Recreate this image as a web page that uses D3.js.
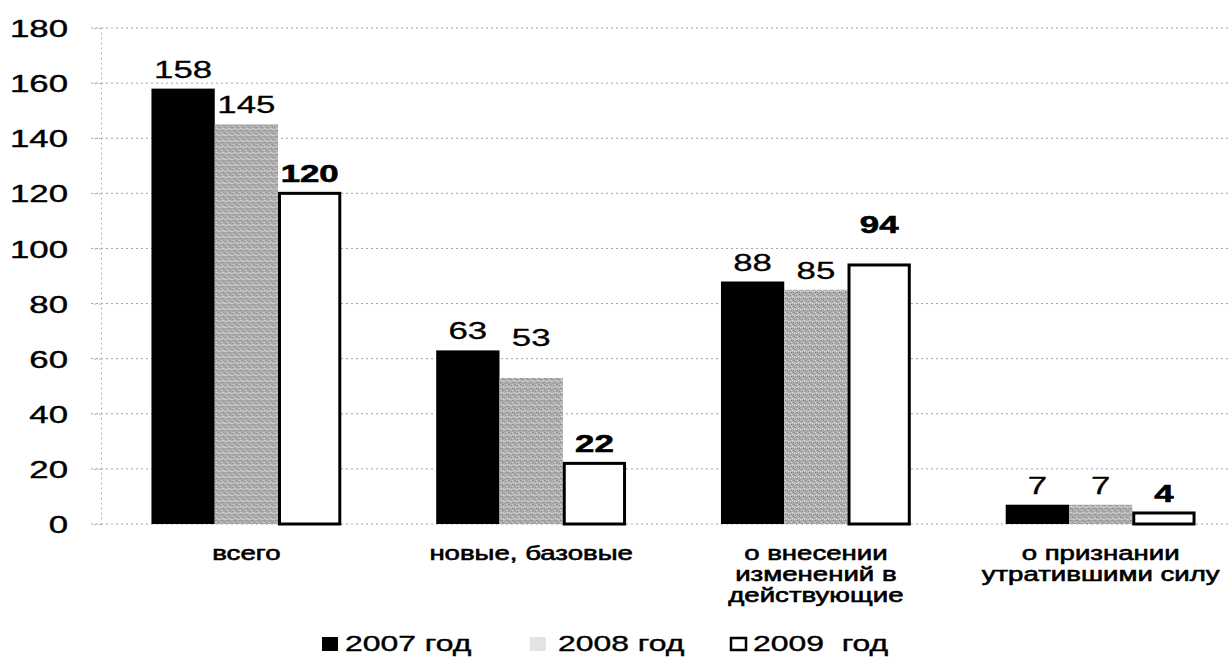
<!DOCTYPE html>
<html lang="ru">
<head>
<meta charset="UTF-8">
<title>Законы по годам</title>
<script src="https://cdn.jsdelivr.net/npm/d3@7/dist/d3.min.js"></script>
<style>
  body { margin: 0; background: #fff; }
  svg text { font-family: "Liberation Sans", Arial, sans-serif; fill: #000; }
  .grid line { stroke: #a0a0a0; stroke-width: 1; stroke-dasharray: 2,3; }
  .axis path, .axis line { stroke: #b0b0b0; stroke-dasharray: 2,3; }
</style>
</head>
<body>
<div id="chart"></div>
<script>
// данные
var categories = ["всего", "новые, базовые", "о внесении\nизменений в\nдействующие", "о признании\nутратившими силу"];
var seriesNames = ["2007 год", "2008 год", "2009\u00a0\u00a0год"];
var v2007 = [158, 63, 88, 7];
var v2008 = [145, 53, 85, 7];
var v2009 = [120, 22, 94, 4];
var yTicks = [0, 20, 40, 60, 80, 100, 120, 140, 160, 180];

var series = [v2007, v2008, v2009];
// extra lift of some value labels (as in the original)
var labelLift = [[0, 0, 0, 0], [0, 21, 0, 0], [0, 0, 21, 0]];

var W = 1229, H = 657;
var sx = 1.45; // the scan is stretched horizontally

var svg = d3.select("#chart").append("svg")
    .attr("width", W).attr("height", H);

var defs = svg.append("defs");
var pat = defs.append("pattern")
    .attr("id", "stipple")
    .attr("patternUnits", "userSpaceOnUse")
    .attr("width", 6).attr("height", 6);
pat.append("rect").attr("width", 6).attr("height", 6).attr("fill", "#b2b2b2");
var dots = [[0,0,"#7c7c7c"],[3,1,"#888"],[1,3,"#e2e2e2"],[4,4,"#7c7c7c"],[2,5,"#959595"],[5,2,"#e8e8e8"],[0,4,"#8e8e8e"],[3,3,"#d0d0d0"],[1,1,"#9a9a9a"],[4,0,"#dcdcdc"],[5,5,"#a0a0a0"]];
dots.forEach(function (d) {
    pat.append("rect").attr("x", d[0]).attr("y", d[1]).attr("width", 1).attr("height", 1).attr("fill", d[2]);
});

var axisX = 101;
var x0 = d3.scaleBand()
    .domain(categories)
    .range([104, 1243])
    .paddingInner(1 / 3)
    .paddingOuter(1 / 6);
var x1 = d3.scaleBand()
    .domain(d3.range(series.length))
    .range([0, x0.bandwidth()]);
var y = d3.scaleLinear()
    .domain([0, 180])
    .range([524, 28]);

// grid
svg.append("g").attr("class", "grid")
    .selectAll("line")
    .data(yTicks)
    .enter().append("line")
    .attr("x1", axisX - 10).attr("x2", W)
    .attr("y1", function (d) { return y(d); })
    .attr("y2", function (d) { return y(d); });

// y axis
var yAxis = svg.append("g").attr("class", "axis")
    .attr("transform", "translate(" + axisX + ",0)")
    .call(d3.axisLeft(y).tickValues(yTicks).tickSize(10).tickSizeOuter(0));
yAxis.selectAll("text")
    .attr("x", (68 - axisX) / sx)
    .attr("dy", "0.36em")
    .attr("transform", "scale(" + sx + ",1)")
    .style("font-size", "24px")
    .style("font-family", "'Liberation Sans', Arial, sans-serif")
    .attr("fill", "#000")
    .attr("stroke", "#000").attr("stroke-width", 0.4);

// bars
var fills = ["#000", "url(#stipple)", "#fff"];
var groups = svg.selectAll(".grp")
    .data(categories)
    .enter().append("g")
    .attr("class", "grp")
    .attr("transform", function (d) { return "translate(" + x0(d) + ",0)"; });

groups.selectAll("rect")
    .data(function (d, ci) { return series.map(function (s, si) { return { si: si, ci: ci, v: s[ci] }; }); })
    .enter().append("rect")
    .attr("x", function (d) { return x1(d.si) + (d.si === 2 ? 1.5 : 0); })
    .attr("width", function (d) { return x1.bandwidth() - (d.si === 2 ? 3 : 0); })
    .attr("y", function (d) { return y(d.v); })
    .attr("height", function (d) { return y(0) - y(d.v); })
    .attr("fill", function (d) { return fills[d.si]; })
    .attr("stroke", function (d) { return d.si === 2 ? "#000" : "none"; })
    .attr("stroke-width", 3);

// value labels
groups.selectAll(".val")
    .data(function (d, ci) { return series.map(function (s, si) { return { si: si, ci: ci, v: s[ci] }; }); })
    .enter().append("text")
    .attr("class", "val")
    .attr("text-anchor", "middle")
    .attr("transform", function (d) {
        var cx = x1(d.si) + x1.bandwidth() / 2;
        var cy = y(d.v) - 11 - labelLift[d.si][d.ci];
        return "translate(" + cx + "," + cy + ") scale(" + sx + ",1)";
    })
    .style("font-size", "24px")
    .style("font-weight", function (d) { return d.si === 2 ? "bold" : "normal"; })
    .attr("stroke", "#000")
    .attr("stroke-width", function (d) { return d.si === 2 ? 0.6 : 0.3; })
    .text(function (d) { return d.v; });

// category labels
var csx = 1.38;
groups.append("text")
    .attr("text-anchor", "middle")
    .attr("transform", function (d) { return "translate(" + x0.bandwidth() / 2 + ",560) scale(" + csx + ",1)"; })
    .style("font-size", "20px")
    .attr("stroke", "#000").attr("stroke-width", 0.6)
    .selectAll("tspan")
    .data(function (d) { return d.split("\n"); })
    .enter().append("tspan")
    .attr("x", 0)
    .attr("dy", function (d, i) { return i === 0 ? 0 : 21; })
    .text(function (d) { return d; });

// legend
var lsx = 1.45;
var legendX = [322, 530, 730];
var legend = svg.selectAll(".leg")
    .data(seriesNames)
    .enter().append("g")
    .attr("class", "leg")
    .attr("transform", function (d, i) { return "translate(" + legendX[i] + ",651)"; });
legend.append("rect")
    .attr("x", function (d, i) { return i === 2 ? 1 : 0; })
    .attr("y", function (d, i) { return i === 2 ? -13 : -14; })
    .attr("width", function (d, i) { return i === 2 ? 15 : 16; })
    .attr("height", function (d, i) { return i === 2 ? 12 : 14; })
    .attr("fill", function (d, i) { return i === 1 ? "#e4e4e4" : fills[i]; })
    .attr("stroke", function (d, i) { return i === 2 ? "#000" : "none"; })
    .attr("stroke-width", 2.5);
legend.append("text")
    .attr("transform", function (d, i) { return "translate(" + (i === 0 ? 23 : (i === 1 ? 28 : 23)) + ",0) scale(" + lsx + ",1)"; })
    .style("font-size", "22px")
    .attr("stroke", "#000").attr("stroke-width", 0.4)
    .text(function (d) { return d; });
</script>
</body>
</html>
